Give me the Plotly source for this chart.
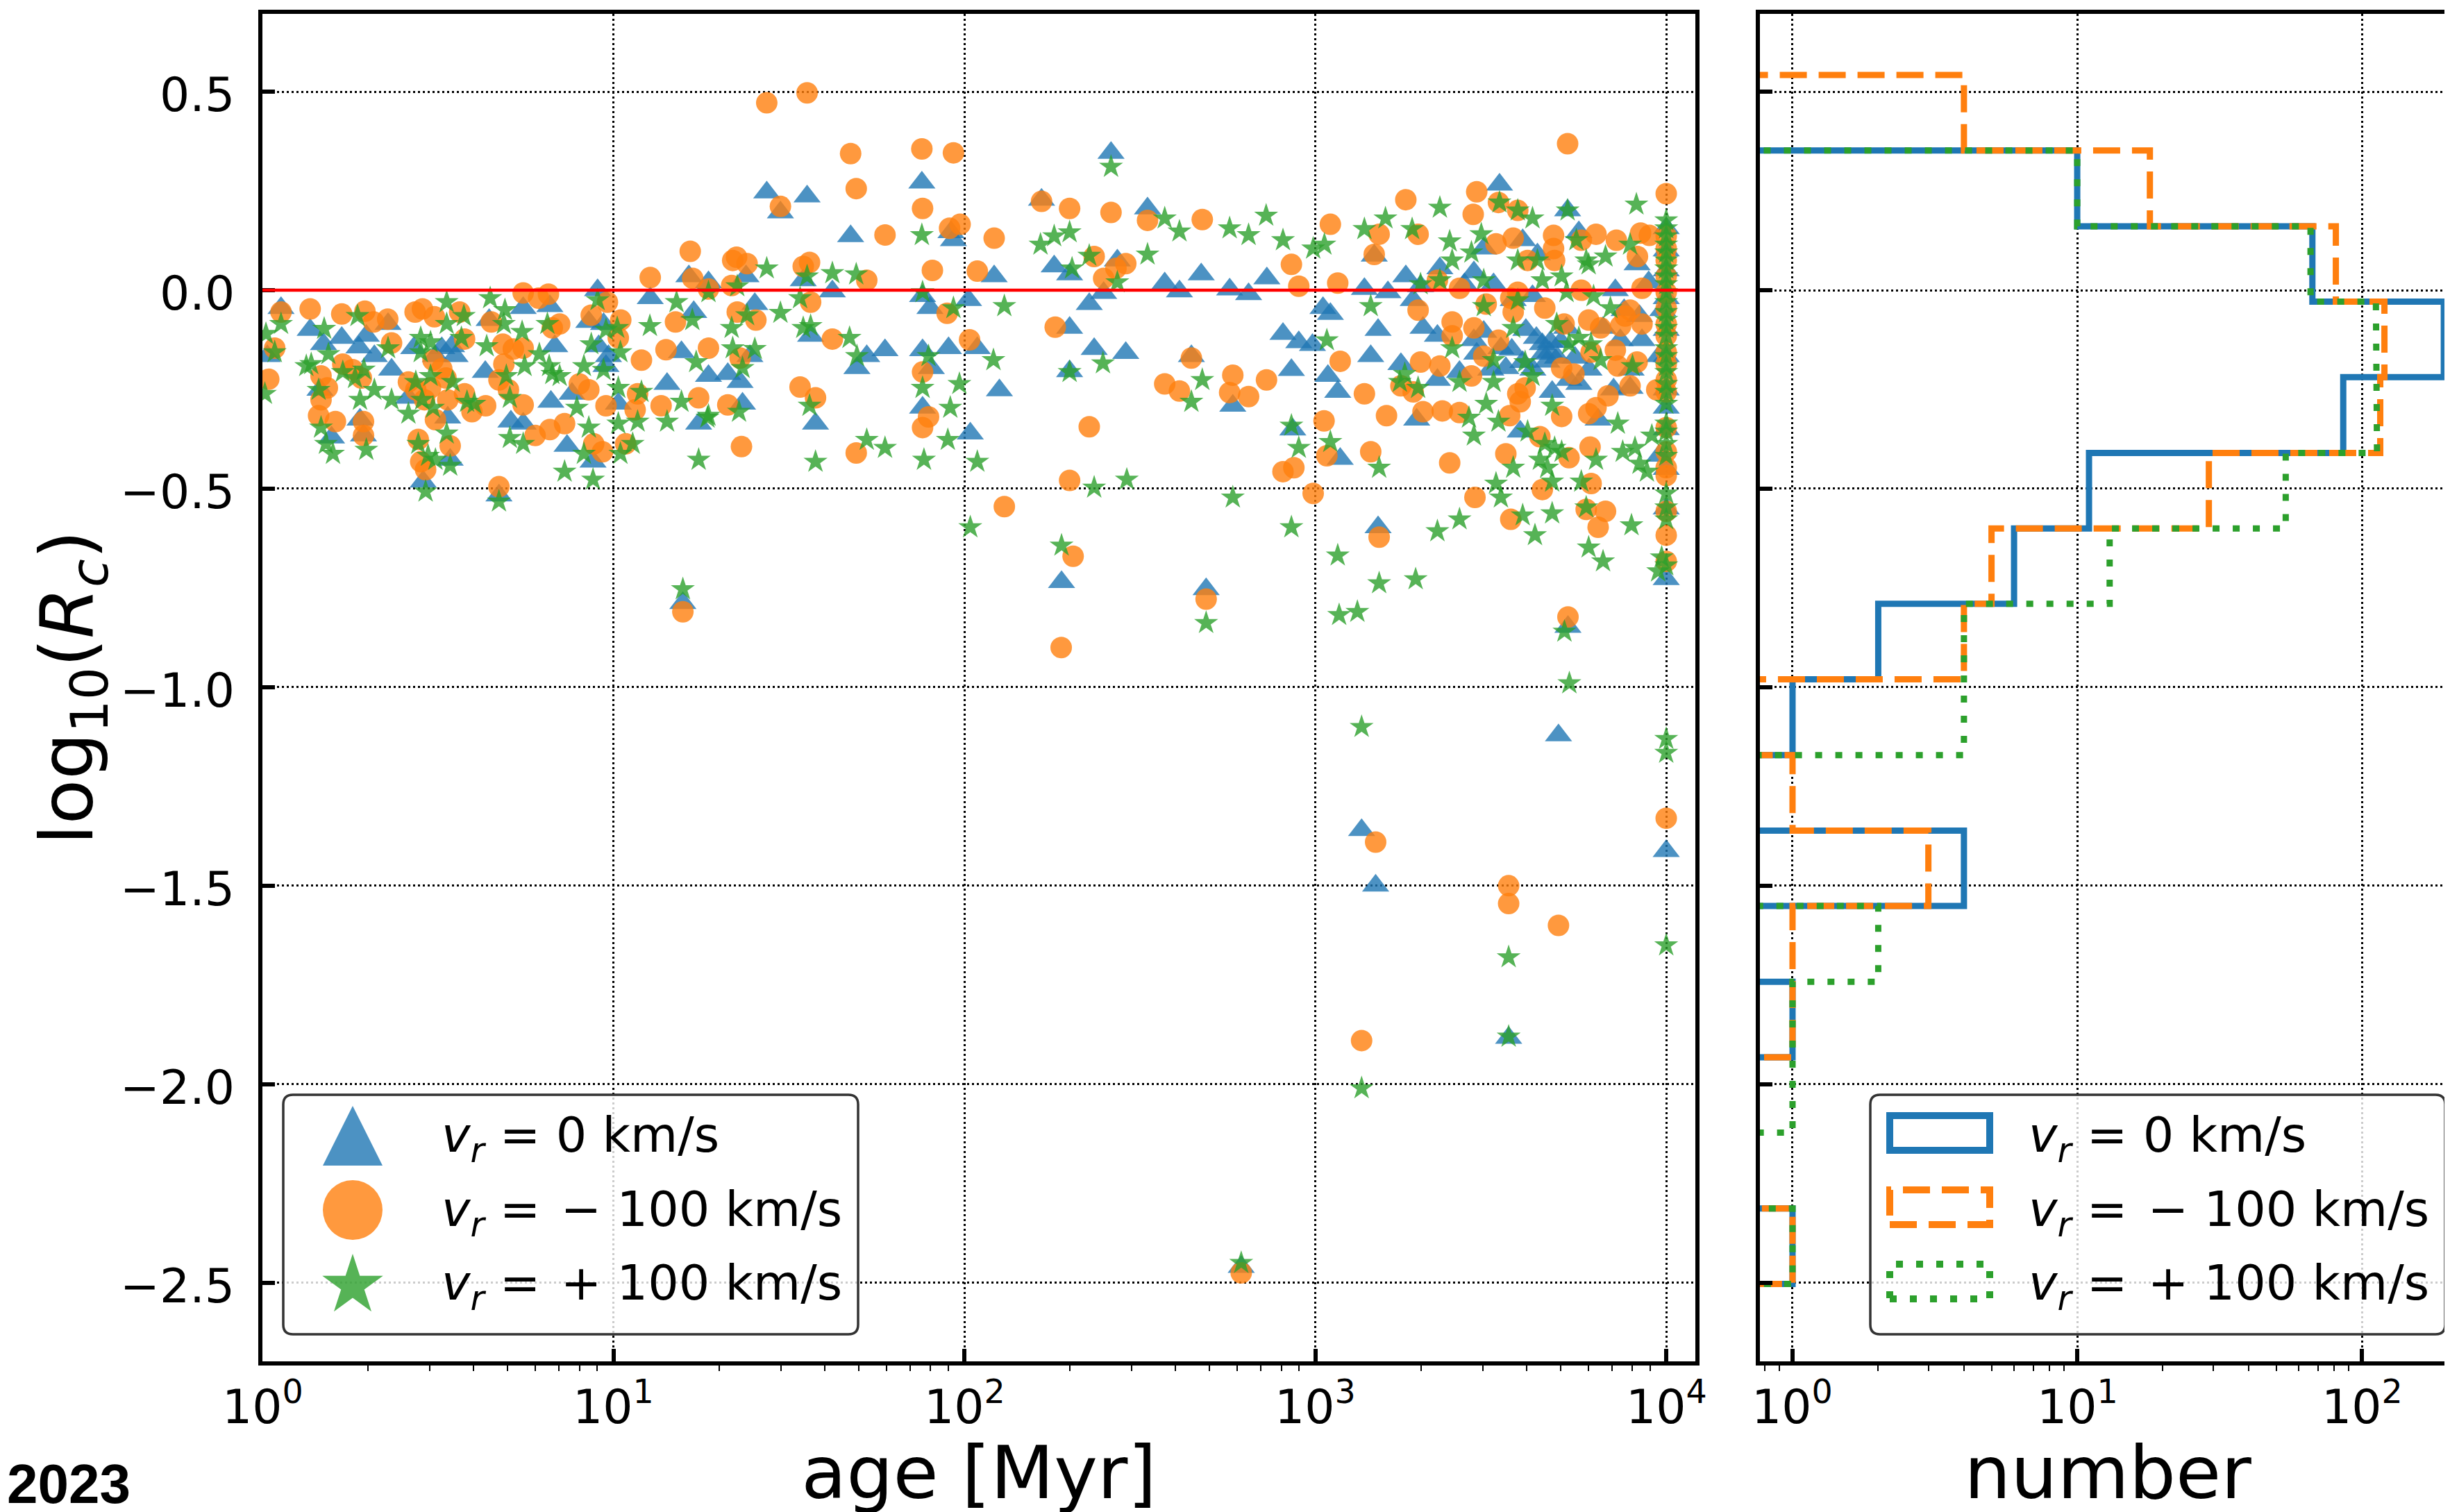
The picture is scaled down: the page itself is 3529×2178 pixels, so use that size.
import math
import plotly.graph_objects as go

# ---------------- data ----------------
# scatter points: (log10(age / Myr), log10(R_c))
blue_points = [
    (1.437, 0.246), (1.552, 0.236), (1.879, 0.271), (1.476, 0.196), (1.676, 0.136), (1.962, 0.146),
    (1.969, 0.126), (1.215, 0.035), (1.271, 0.02), (1.378, 0.035), (1.541, 0.025), (1.624, -0.003),
    (0.955, 0.0), (1.105, -0.02), (1.881, -0.015), (2.085, 0.035), (2.012, -0.025), (1.902, -0.045),
    (0.053, -0.045), (0.743, -0.045), (0.819, -0.04), (0.646, -0.075), (0.93, -0.08), (0.972, -0.085),
    (1.229, -0.055), (1.403, -0.035), (1.562, -0.115), (0.136, -0.1), (0.226, -0.12), (0.296, -0.115),
    (0.275, -0.144), (0.358, -0.085), (0.174, -0.136), (0.014, -0.166), (0.319, -0.166), (0.431, -0.146),
    (0.539, -0.141), (0.549, -0.166), (0.493, -0.166), (0.511, -0.146), (0.833, -0.141), (0.958, -0.141),
    (0.986, -0.166), (1.194, -0.156), (1.389, -0.166), (1.881, -0.151), (1.955, -0.146), (2.037, -0.146),
    (1.722, -0.166), (1.774, -0.151), (0.368, -0.2), (0.635, -0.206), (0.979, -0.191), (1.271, -0.216),
    (1.326, -0.211), (1.361, -0.231), (1.694, -0.196), (1.906, -0.196), (2.1, -0.252), (0.164, -0.251),
    (0.278, -0.326), (0.288, -0.366), (0.197, -0.371), (0.416, -0.271), (0.528, -0.321), (0.535, -0.427),
    (0.458, -0.482), (0.708, -0.331), (0.743, -0.336), (0.822, -0.281), (0.882, -0.261), (0.868, -0.392),
    (0.942, -0.432), (1.014, -0.286), (1.153, -0.236), (1.243, -0.336), (1.368, -0.286), (1.576, -0.336),
    (1.881, -0.296), (2.017, -0.361), (0.674, -0.517), (1.198, -0.788),
    (2.418, 0.346), (3.525, 0.266), (3.719, 0.201), (2.22, 0.228), (2.522, 0.206), (2.256, 0.06),
    (2.3, 0.04), (2.436, 0.075), (2.675, 0.04), (2.862, 0.03), (2.571, 0.017), (2.613, -0.003),
    (2.756, 0.002), (2.81, -0.01), (2.397, -0.007), (2.356, -0.035), (3.14, 0.003), (3.207, -0.005),
    (3.258, 0.035), (3.168, 0.087), (3.355, 0.055), (3.452, 0.045), (3.48, 0.105), (3.591, 0.126),
    (3.633, 0.09), (3.751, 0.146), (3.917, 0.065), (3.022, -0.045), (3.043, -0.06), (3.3, 0.01),
    (3.279, -0.025), (3.425, 0.015), (3.508, 0.015), (3.564, -0.025), (3.619, -0.015), (3.855, 0.0),
    (3.924, -0.065), (2.3, -0.095), (3.179, -0.1), (2.908, -0.11), (2.953, -0.131), (2.992, -0.138),
    (3.307, -0.095), (3.348, -0.115), (2.37, -0.148), (2.46, -0.158), (2.647, -0.166), (3.158, -0.166),
    (3.452, -0.126), (3.48, -0.105), (3.529, -0.146), (3.647, -0.136), (3.668, -0.156), (3.66, -0.18),
    (3.716, -0.095), (3.7, -0.13), (3.82, -0.095), (3.869, -0.126), (3.931, -0.126), (3.98, -0.166),
    (2.3, -0.204), (2.932, -0.201), (3.036, -0.216), (3.064, -0.256), (3.244, -0.186), (3.348, -0.226),
    (3.411, -0.206), (3.543, -0.196), (3.591, -0.181), (3.751, -0.236), (3.723, -0.226), (3.897, -0.246),
    (2.765, -0.291), (3.289, -0.326), (3.675, -0.256), (3.806, -0.326), (3.584, -0.356), (2.936, -0.351),
    (3.071, -0.425), (3.98, -0.417), (2.277, -0.735), (2.689, -0.753), (3.179, -0.597), (3.72, -0.848),
    (3.63, -0.12), (3.65, -0.16), (3.67, -0.13), (3.69, -0.17), (3.6, -0.1), (3.62, -0.2), (3.56, -0.15),
    (3.5, -0.2), (3.46, -0.16), (3.74, -0.17), (3.78, -0.2), (3.85, -0.25), (3.88, -0.05), (3.95, 0.02),
    (3.9, -0.2), (3.99, -0.05),
    (4.0, 0.156), (4.0, 0.1), (4.0, 0.05), (4.0, -0.02), (4.0, -0.1), (4.0, -0.166), (4.0, -0.25),
    (4.0, -0.296), (4.0, -0.35), (4.0, -0.45), (4.0, -0.55), (4.0, -0.728),
    (2.789, -2.46), (3.132, -1.36), (3.172, -1.50), (3.551, -1.883), (3.693, -1.121), (4.0, -1.413),
]

orange_points = [
    (1.437, 0.472), (1.552, 0.497), (1.676, 0.344), (1.879, 0.356), (1.969, 0.346), (1.692, 0.256),
    (1.881, 0.206), (1.476, 0.211), (1.774, 0.139), (1.958, 0.156), (1.988, 0.166), (2.085, 0.131),
    (1.219, 0.098), (1.34, 0.075), (1.381, 0.067), (1.351, 0.083), (1.541, 0.06), (1.559, 0.07),
    (1.105, 0.032), (1.909, 0.05), (2.037, 0.048), (1.226, 0.03), (1.271, 0.003), (1.722, 0.025),
    (1.337, 0.012), (0.743, -0.007), (0.815, -0.01), (0.787, -0.02), (1.562, -0.03), (1.951, -0.058),
    (0.136, -0.047), (0.053, -0.055), (0.226, -0.06), (0.292, -0.053), (0.317, -0.08), (0.357, -0.073),
    (0.435, -0.055), (0.456, -0.047), (0.49, -0.067), (0.562, -0.055), (0.652, -0.08), (0.847, -0.085),
    (0.937, -0.063), (0.983, -0.03), (1.021, -0.075), (1.177, -0.08), (1.353, -0.055), (1.406, -0.075),
    (1.624, -0.123), (2.015, -0.125), (0.035, -0.146), (0.018, -0.224), (0.368, -0.133), (0.576, -0.123),
    (0.685, -0.136), (0.715, -0.148), (0.743, -0.146), (0.826, -0.095), (1.014, -0.12), (1.08, -0.176),
    (1.15, -0.15), (1.271, -0.146), (1.361, -0.171), (1.881, -0.206), (0.229, -0.186), (0.257, -0.2),
    (0.282, -0.221), (0.167, -0.216), (0.185, -0.246), (0.167, -0.276), (0.16, -0.316), (0.208, -0.331),
    (0.288, -0.331), (0.288, -0.366), (0.416, -0.231), (0.437, -0.251), (0.486, -0.176), (0.511, -0.198),
    (0.523, -0.221), (0.479, -0.246), (0.462, -0.276), (0.493, -0.326), (0.444, -0.376), (0.451, -0.432),
    (0.465, -0.452), (0.535, -0.392), (0.528, -0.276), (0.576, -0.261), (0.636, -0.291), (0.597, -0.306),
    (0.674, -0.226), (0.688, -0.186), (0.701, -0.251), (0.743, -0.289), (0.777, -0.366), (0.819, -0.351),
    (0.861, -0.336), (0.903, -0.236), (0.93, -0.251), (0.944, -0.387), (0.969, -0.407), (0.979, -0.291),
    (1.062, -0.301), (1.069, -0.261), (1.035, -0.387), (1.136, -0.291), (1.243, -0.271), (1.326, -0.289),
    (1.365, -0.394), (1.532, -0.244), (1.576, -0.271), (1.692, -0.41), (1.881, -0.346), (1.898, -0.319),
    (2.114, -0.545), (0.674, -0.495), (1.198, -0.81),
    (3.719, 0.369), (3.46, 0.248), (3.258, 0.228), (3.45, 0.191), (3.522, 0.221), (3.577, 0.201),
    (2.22, 0.224), (2.3, 0.206), (2.418, 0.196), (2.522, 0.176), (2.678, 0.178), (3.043, 0.166),
    (3.182, 0.141), (3.293, 0.141), (3.679, 0.138), (3.8, 0.141), (3.858, 0.126), (3.927, 0.144),
    (3.952, 0.138), (3.515, 0.117), (3.564, 0.131), (3.605, 0.075), (3.679, 0.105), (3.682, 0.075),
    (3.758, 0.126), (3.168, 0.09), (2.932, 0.065), (2.37, 0.085), (2.46, 0.067), (2.397, 0.03),
    (2.432, 0.055), (2.953, 0.01), (3.064, 0.018), (3.411, 0.005), (3.577, -0.005), (3.557, -0.02),
    (3.758, 0.0), (3.931, 0.005), (3.348, 0.025), (3.918, 0.085),
    (2.259, -0.093), (3.293, -0.05), (3.39, -0.08), (3.39, -0.115), (3.452, -0.095), (3.487, -0.035),
    (3.564, -0.055), (3.654, -0.045), (3.709, -0.085), (3.779, -0.075), (3.813, -0.095), (3.883, -0.065),
    (3.897, -0.05), (3.931, -0.085), (3.87, -0.09), (2.647, -0.171), (3.071, -0.179), (3.3, -0.181),
    (3.355, -0.191), (3.48, -0.166), (3.522, -0.126), (3.445, -0.216), (3.702, -0.196), (3.737, -0.211),
    (3.786, -0.156), (3.855, -0.151), (3.862, -0.191), (3.917, -0.181), (3.897, -0.241), (3.973, -0.251),
    (2.571, -0.236), (2.613, -0.254), (2.765, -0.214), (2.756, -0.258), (2.81, -0.268), (2.861, -0.226),
    (3.244, -0.241), (3.279, -0.256), (3.14, -0.261), (3.577, -0.261), (3.598, -0.246), (3.584, -0.281),
    (3.834, -0.266), (2.356, -0.344), (3.203, -0.316), (3.307, -0.306), (3.362, -0.304), (3.411, -0.308),
    (3.554, -0.316), (3.702, -0.318), (3.779, -0.311), (3.8, -0.296), (3.025, -0.329), (3.64, -0.369),
    (3.383, -0.435), (3.543, -0.412), (3.723, -0.422), (3.783, -0.395), (3.158, -0.407), (3.033, -0.417),
    (2.908, -0.457), (2.939, -0.447), (2.3, -0.479), (3.647, -0.502), (3.786, -0.487), (2.994, -0.512),
    (3.455, -0.522), (3.557, -0.577), (3.772, -0.552), (3.827, -0.557), (3.806, -0.597), (2.31, -0.67),
    (3.182, -0.622), (2.689, -0.778), (3.72, -0.823),
    (4.0, 0.243), (4.0, 0.136), (4.0, 0.105), (4.0, 0.075), (4.0, 0.035), (4.0, -0.005), (4.0, -0.045),
    (4.0, -0.085), (4.0, -0.115), (4.0, -0.156), (4.0, -0.186), (4.0, -0.226), (4.0, -0.256),
    (4.0, -0.346), (4.0, -0.407), (4.0, -0.447), (4.0, -0.467), (4.0, -0.557), (4.0, -0.617), (4.0, -0.683),
    (2.276, -0.90), (2.789, -2.475), (3.132, -1.89), (3.172, -1.39), (3.551, -1.50), (3.551, -1.545),
    (3.693, -1.60), (4.0, -1.33),
]

green_points = [
    (1.879, 0.139), (1.437, 0.055), (1.552, 0.035), (1.624, 0.043), (1.692, 0.04), (1.353, 0.01),
    (1.271, -0.005), (1.18, -0.03), (1.532, -0.02), (1.881, -0.005), (0.525, -0.03), (0.649, -0.02),
    (0.691, -0.05), (0.955, -0.025), (1.476, -0.057), (1.381, -0.063), (1.969, -0.045), (2.114, -0.04),
    (0.053, -0.085), (0.271, -0.065), (0.525, -0.085), (0.574, -0.065), (0.812, -0.085), (1.011, -0.095),
    (1.104, -0.09), (1.225, -0.075), (1.337, -0.095), (1.541, -0.095), (1.562, -0.09), (1.673, -0.12),
    (0.01, -0.11), (0.176, -0.097), (0.451, -0.12), (0.479, -0.131), (0.688, -0.085), (0.74, -0.105),
    (0.979, -0.1), (0.035, -0.156), (0.139, -0.186), (0.188, -0.161), (0.358, -0.146), (0.451, -0.156),
    (0.567, -0.12), (0.639, -0.141), (0.789, -0.161), (0.817, -0.191), (0.937, -0.136), (1.02, -0.156),
    (1.236, -0.181), (1.34, -0.146), (1.403, -0.148), (1.368, -0.196), (1.694, -0.166), (1.898, -0.166),
    (2.083, -0.176), (0.007, -0.261), (0.125, -0.191), (0.16, -0.251), (0.229, -0.206), (0.264, -0.221),
    (0.289, -0.2), (0.319, -0.251), (0.368, -0.276), (0.437, -0.231), (0.479, -0.216), (0.542, -0.231),
    (0.583, -0.281), (0.604, -0.286), (0.695, -0.216), (0.705, -0.271), (0.747, -0.191), (0.826, -0.211),
    (0.847, -0.216), (0.916, -0.191), (0.972, -0.201), (1.014, -0.246), (1.08, -0.256), (1.194, -0.281),
    (1.268, -0.321), (1.358, -0.306), (1.559, -0.291), (1.881, -0.246), (1.986, -0.236), (1.96, -0.296),
    (0.167, -0.346), (0.181, -0.387), (0.201, -0.412), (0.296, -0.402), (0.278, -0.276), (0.416, -0.311),
    (0.455, -0.276), (0.486, -0.296), (0.444, -0.387), (0.472, -0.417), (0.493, -0.427), (0.465, -0.507),
    (0.535, -0.442), (0.525, -0.361), (0.705, -0.372), (0.743, -0.387), (0.861, -0.457), (0.896, -0.296),
    (0.916, -0.412), (0.93, -0.346), (0.942, -0.477), (1.02, -0.412), (1.055, -0.387), (1.069, -0.331),
    (1.014, -0.336), (1.153, -0.331), (1.271, -0.316), (1.243, -0.427), (1.576, -0.432), (1.722, -0.377),
    (1.774, -0.397), (1.885, -0.427), (1.953, -0.377), (2.037, -0.432), (0.674, -0.532), (1.198, -0.753),
    (2.017, -0.597),
    (2.418, 0.311), (3.915, 0.216), (3.355, 0.208), (3.525, 0.221), (3.577, 0.201), (3.619, 0.181),
    (3.719, 0.201), (2.571, 0.181), (2.613, 0.148), (2.756, 0.156), (2.81, 0.139), (2.86, 0.188),
    (2.908, 0.126), (2.994, 0.105), (3.026, 0.115), (2.217, 0.115), (2.256, 0.136), (2.3, 0.146),
    (2.356, 0.087), (2.307, 0.055), (2.522, 0.09), (2.436, 0.02), (3.2, 0.181), (3.14, 0.154),
    (3.276, 0.154), (3.383, 0.123), (3.473, 0.141), (3.744, 0.126), (3.772, 0.075), (3.827, 0.085),
    (3.897, 0.115), (3.577, 0.075), (3.633, 0.075), (3.39, 0.075), (3.445, 0.095), (3.48, 0.025),
    (3.3, 0.015), (3.355, 0.025), (3.647, 0.025), (3.702, 0.035), (3.779, 0.065), (3.158, -0.04),
    (3.48, -0.04), (3.577, -0.025), (3.716, -0.005), (3.793, -0.015), (3.841, -0.045), (3.033, -0.126),
    (3.564, -0.095), (3.688, -0.085), (3.723, -0.136), (3.751, -0.12), (3.39, -0.146), (3.786, -0.136),
    (2.395, -0.184), (2.3, -0.206), (3.255, -0.211), (3.293, -0.246), (3.241, -0.231), (3.508, -0.176),
    (3.598, -0.181), (3.619, -0.216), (3.813, -0.176), (3.904, -0.191), (2.678, -0.226), (2.647, -0.281),
    (3.411, -0.231), (3.487, -0.286), (3.508, -0.231), (3.675, -0.291), (3.438, -0.321), (3.522, -0.331),
    (3.452, -0.366), (2.932, -0.341), (2.953, -0.397), (3.043, -0.382), (3.605, -0.356), (3.654, -0.387),
    (3.682, -0.397), (3.702, -0.407), (3.64, -0.427), (3.661, -0.447), (3.564, -0.447), (3.8, -0.427),
    (3.862, -0.336), (3.876, -0.407), (3.911, -0.397), (3.924, -0.437), (3.945, -0.457), (3.959, -0.366),
    (3.182, -0.447), (2.37, -0.497), (2.463, -0.477), (2.765, -0.522), (3.515, -0.487), (3.529, -0.522),
    (3.675, -0.482), (3.758, -0.482), (3.411, -0.577), (3.348, -0.607), (3.591, -0.567), (3.626, -0.617),
    (3.675, -0.562), (3.779, -0.648), (3.82, -0.683), (3.901, -0.592), (3.772, -0.547), (2.932, -0.597),
    (3.064, -0.668), (2.277, -0.643), (3.182, -0.738), (3.286, -0.728), (3.068, -0.818), (2.689, -0.838),
    (3.977, -0.708), (3.987, -0.673),
    (4.0, 0.176), (4.0, 0.156), (4.0, 0.136), (4.0, 0.115), (4.0, 0.095), (4.0, 0.075), (4.0, 0.055),
    (4.0, 0.035), (4.0, 0.015), (4.0, -0.005), (4.0, -0.03), (4.0, -0.055), (4.0, -0.075), (4.0, -0.095),
    (4.0, -0.115), (4.0, -0.146), (4.0, -0.166), (4.0, -0.191), (4.0, -0.206), (4.0, -0.236),
    (4.0, -0.256), (4.0, -0.286), (4.0, -0.336), (4.0, -0.356), (4.0, -0.387), (4.0, -0.417),
    (4.0, -0.512), (4.0, -0.547), (4.0, -0.577), (4.0, -0.693),
    (2.789, -2.45), (3.132, -2.01), (3.132, -1.10), (3.12, -0.81), (3.551, -1.88), (3.551, -1.68),
    (3.724, -0.99), (3.71, -0.86), (4.0, -1.13), (4.0, -1.165), (4.0, -1.65),
]

# histogram (right panel): bin edges in log10(R_c) and counts per bin (bottom -> top)
hist_edges = [-2.503, -2.313, -2.122, -1.932, -1.742, -1.551, -1.361, -1.171, -0.980,
              -0.790, -0.600, -0.410, -0.219, -0.029, 0.161, 0.352, 0.542]
hist_blue = [1, 0, 0, 1, 0, 4, 0, 1, 2, 6, 11, 86, 194, 67, 10, 0]
hist_orange = [1, 0, 0, 1, 1, 3, 1, 0, 4, 5, 29, 116, 120, 81, 18, 4]
hist_green = [1, 0, 1, 1, 2, 0, 0, 4, 4, 13, 54, 113, 112, 66, 10, 0]

series_names = ["<i>v</i><sub><i>r</i></sub> = 0 km/s",
                "<i>v</i><sub><i>r</i></sub> = \u200a− 100 km/s",
                "<i>v</i><sub><i>r</i></sub> = \u200a+ 100 km/s"]
x_ticks_age = [1, 10, 100, 1000, 10000]
x_ticks_num = [1, 10, 100]
y_ticks = [-2.5, -2.0, -1.5, -1.0, -0.5, 0.0, 0.5]

# ---------------- styling ----------------
FONT = "DejaVu Sans"
TICK_FONT = dict(family=FONT, size=68, color="black")
C_BLUE, C_ORANGE, C_GREEN = "#1f77b4", "#ff7f0e", "#2ca02c"
RGBA = {C_BLUE: "rgba(31,119,180,0.8)", C_ORANGE: "rgba(255,127,14,0.8)", C_GREEN: "rgba(44,160,44,0.8)"}
W, H = 3529, 2178
DASH = {"solid": "solid", "dashed": "39px,17px", "dotted": "10px,19px"}


def px_x(p):
    return p / W


def px_y(p):
    return 1 - p / H


def sup_label(v):
    return "10<sup>%d</sup>" % round(math.log10(v))


def step_outline(counts, edges, floor=1e-3):
    xs, ys = [floor], [edges[0]]
    for i, c in enumerate(counts):
        v = c if c > 0 else floor
        xs += [v, v]
        ys += [edges[i], edges[i + 1]]
    xs.append(floor)
    ys.append(edges[-1])
    return xs, ys


fig = go.Figure()

scatter_specs = [
    (blue_points, C_BLUE, "triangle-up", 34, series_names[0]),
    (orange_points, C_ORANGE, "circle", 31, series_names[1]),
    (green_points, C_GREEN, "star", 26, series_names[2]),
]
for pts, col, sym, size, name in scatter_specs:
    fig.add_trace(go.Scatter(
        x=[10 ** a for a, _ in pts], y=[r for _, r in pts],
        mode="markers", name=name, showlegend=False,
        marker=dict(color=col, symbol=sym, size=size, opacity=0.8, line=dict(width=0)),
        xaxis="x", yaxis="y", hoverinfo="skip"))

hist_specs = [
    (hist_blue, C_BLUE, DASH["solid"], series_names[0]),
    (hist_orange, C_ORANGE, DASH["dashed"], series_names[1]),
    (hist_green, C_GREEN, DASH["dotted"], series_names[2]),
]
for counts, col, dash, name in hist_specs:
    hx, hy = step_outline(counts, hist_edges)
    fig.add_trace(go.Scatter(
        x=hx, y=hy, mode="lines", name=name, showlegend=False,
        line=dict(color=col, width=9, dash=dash),
        xaxis="x2", yaxis="y2", hoverinfo="skip"))

# domains (paper fractions)
LX0, LX1 = px_x(370), px_x(2434)
RX0, RX1 = px_x(2527), 1.0
Y0, Y1 = px_y(1953), px_y(12)
YR = [-2.698, 0.696]

axis_common = dict(showline=True, linecolor="black", linewidth=6, mirror=True,
                   ticks="inside", ticklen=18, tickwidth=6, tickcolor="black",
                   showgrid=True, gridcolor="black", gridwidth=2.5, griddash="3px,4px",
                   zeroline=False, automargin=False, showticklabels=False)

minor_x = dict(ticks="outside", ticklen=8, tickwidth=2, tickcolor="black", showgrid=False,
               tickmode="array",
               tickvals=[m * 10 ** k for k in range(-1, 5) for m in range(2, 10)])

fig.update_layout(
    width=W, height=H, margin=dict(l=0, r=0, t=0, b=0),
    paper_bgcolor="white", plot_bgcolor="white",
    font=dict(family=FONT, color="black", size=68),
    showlegend=False,
    xaxis=dict(axis_common, type="log", domain=[LX0, LX1], range=[0, 4.083], anchor="y",
               tickmode="array", tickvals=x_ticks_age, minor=minor_x,
               title=dict(text="age [Myr]", font=dict(family=FONT, size=106), standoff=120)),
    yaxis=dict(axis_common, domain=[Y0, Y1], range=YR, anchor="x",
               tickmode="array", tickvals=y_ticks,
               title=dict(text="log<sub>10</sub>(<i>R</i><sub><i>c</i></sub>)",
                          font=dict(family=FONT, size=106), standoff=205)),
    xaxis2=dict(axis_common, type="log", domain=[RX0, RX1], range=[-0.1146, 2.329], anchor="y2",
                tickmode="array", tickvals=x_ticks_num, minor=minor_x,
                title=dict(text="number", font=dict(family=FONT, size=106), standoff=120)),
    yaxis2=dict(axis_common, domain=[Y0, Y1], range=YR, anchor="x2", mirror=False,
                tickmode="array", tickvals=y_ticks),
    hovermode=False,
)

# tick labels (DejaVu Sans, placed on the axes' own coordinates)
for v in y_ticks:
    fig.add_annotation(text=("%.1f" % v).replace("-", "−"), xref="paper", yref="y",
                       x=px_x(332), y=v - 0.008, xanchor="right", yanchor="middle",
                       showarrow=False, font=TICK_FONT)
for axref, ticks in (("x", x_ticks_age), ("x2", x_ticks_num)):
    for v in ticks:
        fig.add_annotation(text=sup_label(v), xref=axref, yref="paper",
                           x=math.log10(v), y=px_y(1967), xanchor="center", yanchor="top",
                           showarrow=False, font=TICK_FONT)

# red reference line at log10(Rc) = 0
fig.add_shape(type="line", xref="x domain", yref="y", x0=0, x1=1, y0=0, y1=0,
              line=dict(color="red", width=4.5), layer="above")


# ---------------- legends (rounded frame + large keys + text) ----------------
def rounded_box(x0p, y0p, x1p, y1p, r=14):
    X0, X1, rx = px_x(x0p), px_x(x1p), r / W
    YT, YB, ry = px_y(y0p), px_y(y1p), r / H
    return (f"M{X0 + rx},{YT} L{X1 - rx},{YT} Q{X1},{YT} {X1},{YT - ry} "
            f"L{X1},{YB + ry} Q{X1},{YB} {X1 - rx},{YB} L{X0 + rx},{YB} "
            f"Q{X0},{YB} {X0},{YB + ry} L{X0},{YT - ry} Q{X0},{YT} {X0 + rx},{YT} Z")


def poly_path(pts):
    return "M" + " L".join(f"{px_x(x)},{px_y(y)}" for x, y in pts) + " Z"


LEG_TOP, LEG_BOTTOM, LEG_W = 1569, 1914, 828
KEY_DX, TEXT_DX = 100, 226
ROW_Y = [1628, 1735, 1841]
legend_left = [400, 2686]

for L in legend_left:
    fig.add_shape(type="path", xref="paper", yref="paper",
                  path=rounded_box(L, LEG_TOP, L + LEG_W, LEG_BOTTOM),
                  fillcolor="rgba(255,255,255,0.8)", line=dict(color="#333333", width=3.5),
                  layer="above")

kx = legend_left[0] + KEY_DX
hs = 43
cy = ROW_Y[0]
fig.add_shape(type="path", xref="paper", yref="paper", layer="above",
              path=poly_path([(kx, cy - hs), (kx + hs, cy + hs), (kx - hs, cy + hs)]),
              fillcolor=RGBA[C_BLUE], line=dict(width=0))
cy = ROW_Y[1]
fig.add_shape(type="circle", xref="paper", yref="paper", layer="above",
              x0=px_x(kx - hs), x1=px_x(kx + hs), y0=px_y(cy + hs), y1=px_y(cy - hs),
              fillcolor=RGBA[C_ORANGE], line=dict(width=0))
cy = ROW_Y[2] + 3
R_out, R_in = 46, 46 * 0.381966
star = []
for k in range(10):
    ang = math.pi / 2 + k * math.pi / 5
    rr = R_out if k % 2 == 0 else R_in
    star.append((kx + rr * math.cos(ang), cy - rr * math.sin(ang)))
fig.add_shape(type="path", xref="paper", yref="paper", layer="above",
              path=poly_path(star), fillcolor=RGBA[C_GREEN], line=dict(width=0))

kx2 = legend_left[1] + KEY_DX
for cy, (_, col, dash, _) in zip([ROW_Y[0] - 4, ROW_Y[1] - 4, ROW_Y[2] - 3], hist_specs):
    fig.add_shape(type="rect", xref="paper", yref="paper", layer="above",
                  x0=px_x(kx2 - 72), x1=px_x(kx2 + 72), y0=px_y(cy + 25), y1=px_y(cy - 25),
                  fillcolor="rgba(0,0,0,0)", line=dict(color=col, width=10, dash=dash))

for L in legend_left:
    for cy, name in zip(ROW_Y, series_names):
        fig.add_annotation(text=name, xref="paper", yref="paper",
                           x=px_x(L + TEXT_DX), y=px_y(cy + 4), xanchor="left", yanchor="middle",
                           showarrow=False, font=dict(family=FONT, size=70, color="black"))

fig.add_annotation(text="<b>2023</b>", xref="paper", yref="paper", x=px_x(0), y=px_y(2176),
                   xanchor="left", yanchor="bottom", showarrow=False,
                   font=dict(family="Liberation Sans", size=80, color="black"))

fig.write_html("out.html")
